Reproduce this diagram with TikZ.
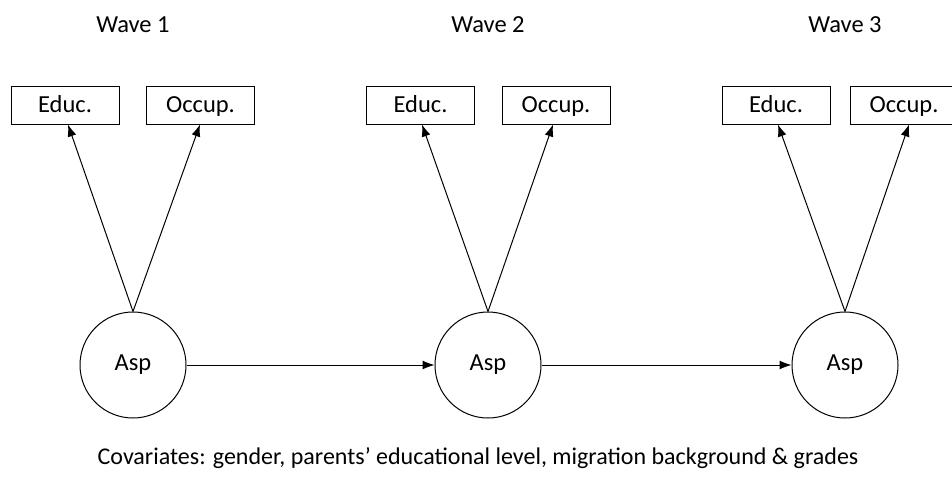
\documentclass[tikz,border=0pt]{standalone}
\usepackage{fontspec}
\setmainfont{Carlito}
\usetikzlibrary{arrows.meta}
\begin{document}
\begin{tikzpicture}[x=1pt,y=-1pt,
  ind/.style={draw,line width=1pt,minimum width=108pt,minimum height=38pt,inner sep=0pt,text height=17pt,text depth=2pt,font=\fontsize{24.5}{28}\selectfont},
  lat/.style={draw,circle,line width=1pt,minimum size=106pt,inner sep=0pt,font=\fontsize{24.5}{28}\selectfont},
  lbl/.style={font=\fontsize{24.5}{28}\selectfont},
  arr/.style={line width=1pt,-{Latex[length=12pt,width=9pt]}}]
\useasboundingbox (0,0) rectangle (952,477);
\foreach \i/\cx/\ex/\ox in {1/133/65/200.5, 2/488/420.5/556, 3/845/776/904}{
  \node[lbl] (w\i) at (\cx,25) {Wave \i};
  \node[ind] (e\i) at (\ex,105) {Educ.};
  \node[ind] (o\i) at (\ox,105) {Occup.};
  \node[lat] (a\i) at (\cx,365) {Asp};
}
\draw[arr] (a1.north) -- ([xshift=3pt]e1.south);
\draw[arr] (a1.north) -- ([xshift=-0.5pt]o1.south);
\draw[arr] (a2.north) -- ([xshift=1.5pt]e2.south);
\draw[arr] (a2.north) -- ([xshift=-3pt]o2.south);
\draw[arr] (a3.north) -- ([xshift=2pt]e3.south);
\draw[arr] (a3.north) -- ([xshift=5pt]o3.south);
\draw[arr] (a1) -- (a2);
\draw[arr] (a2) -- (a3);
\node[font=\fontsize{24}{28}\selectfont] (cov) at (478,458) {Covariates: gender, parents’ educational level, migration background \& grades};
\end{tikzpicture}
\end{document}
